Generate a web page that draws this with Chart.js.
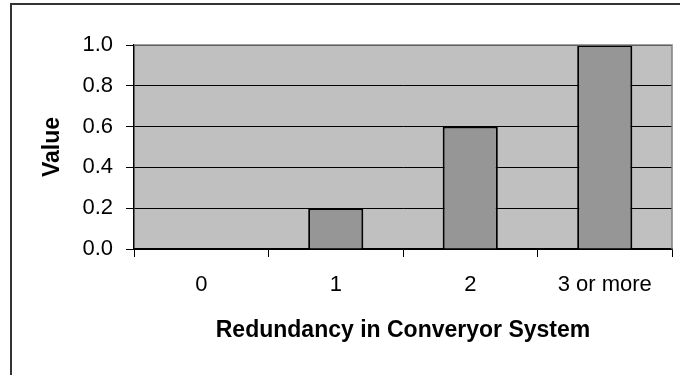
<!DOCTYPE html>
<html>
<head>
<meta charset="utf-8">
<script src="https://cdn.jsdelivr.net/npm/chart.js@4/dist/chart.umd.min.js"></script>
<style>
  html, body { margin: 0; padding: 0; background: #fff; }
  #wrap { width: 680px; height: 375px; position: relative; }
</style>
</head>
<body>
<div id="wrap"><canvas id="c" width="680" height="375"></canvas></div>
<script>
const categories = ["0", "1", "2", "3 or more"];
const values = [0, 0.2, 0.6, 1.0];
const yTicks = [0, 0.2, 0.4, 0.6, 0.8, 1.0];
const xTitle = "Redundancy in Converyor System";
const yTitle = "Value";

const FONT = "'Liberation Sans', Arial, sans-serif";

const decor = {
  id: 'decor',
  beforeDraw(chart) {
    const ctx = chart.ctx;
    const a = chart.chartArea;
    ctx.save();
    ctx.fillStyle = '#ffffff';
    ctx.fillRect(0, 0, chart.width, chart.height);
    // outer frame (left and top)
    ctx.strokeStyle = '#333333';
    ctx.lineWidth = 2;
    ctx.beginPath();
    ctx.moveTo(11, chart.height + 2);
    ctx.lineTo(11, 4);
    ctx.lineTo(chart.width + 2, 4);
    ctx.stroke();
    // plot area
    ctx.fillStyle = '#C0C0C0';
    ctx.fillRect(a.left, a.top, a.right - a.left, a.bottom - a.top);
    ctx.restore();
  },
  afterDatasetsDraw(chart) {
    const ctx = chart.ctx;
    const a = chart.chartArea;
    ctx.save();
    ctx.strokeStyle = '#808080';
    ctx.lineWidth = 1.5;
    ctx.beginPath();
    ctx.moveTo(a.left, a.top);
    ctx.lineTo(a.right, a.top);
    ctx.lineTo(a.right, a.bottom);
    ctx.stroke();
    ctx.restore();
  }
};

new Chart(document.getElementById('c'), {
  type: 'bar',
  data: {
    labels: categories,
    datasets: [{
      data: values,
      backgroundColor: '#969696',
      borderColor: '#000000',
      borderWidth: 2,
      categoryPercentage: 1.0,
      barPercentage: 0.41
    }]
  },
  options: {
    responsive: false,
    animation: false,
    devicePixelRatio: 1,
    layout: { padding: { left: 14, right: 8, top: 45, bottom: 0 } },
    plugins: { legend: { display: false }, tooltip: { enabled: false } },
    scales: {
      x: {
        offset: true,
        grid: {
          offset: true,
          drawOnChartArea: false,
          drawTicks: true,
          tickLength: 8,
          color: '#000000',
          lineWidth: 1
        },
        border: { display: true, color: '#000000', width: 1.5 },
        ticks: {
          color: '#000000',
          font: { family: FONT, size: 22 },
          padding: 15,
          maxRotation: 0,
          autoSkip: false
        },
        title: {
          display: true,
          text: xTitle,
          color: '#000000',
          font: { family: FONT, size: 23, weight: 'bold' },
          padding: { top: 0, bottom: 31 }
        },
        afterFit(scale) { scale.height = 375 - 249; }
      },
      y: {
        min: 0,
        max: 1.0,
        afterBuildTicks(scale) { scale.ticks = yTicks.map(v => ({ value: v })); },
        grid: {
          drawOnChartArea: true,
          drawTicks: true,
          tickLength: 8,
          color: '#000000',
          lineWidth: 1
        },
        border: { display: true, color: '#000000', width: 1.5 },
        ticks: {
          color: '#000000',
          font: { family: FONT, size: 22 },
          padding: 13,
          callback: (v) => Number(v).toFixed(1)
        },
        title: {
          display: true,
          text: yTitle,
          color: '#000000',
          font: { family: FONT, size: 23, weight: 'bold' },
          padding: { top: 25, bottom: 0 }
        },
        afterFit(scale) { scale.width = 134 - 14; }
      }
    }
  },
  plugins: [decor]
});
</script>
</body>
</html>
